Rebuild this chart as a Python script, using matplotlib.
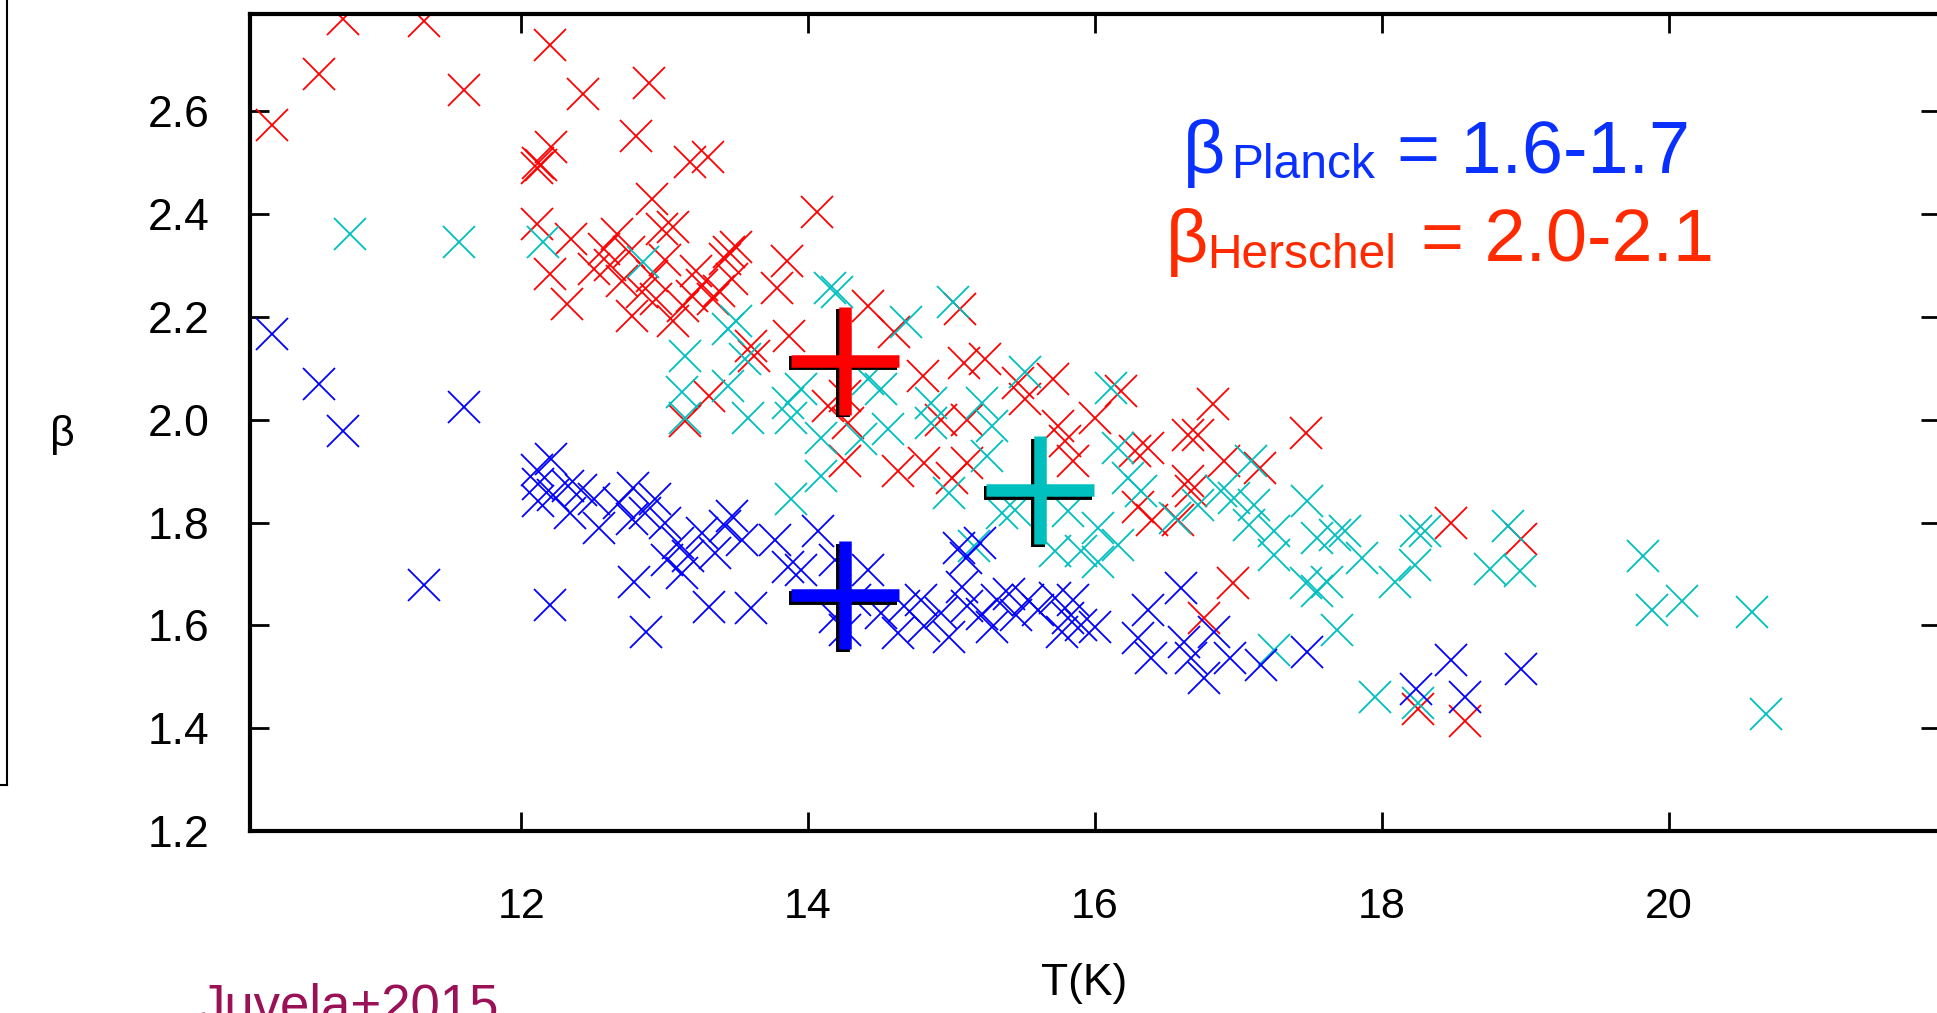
import matplotlib
matplotlib.use("Agg")
import matplotlib.pyplot as plt
import matplotlib.transforms as mtransforms
from matplotlib.lines import Line2D

plt.rcParams['font.family'] = ['Liberation Sans', 'DejaVu Sans']

# --- data ---
red_T = [10.76, 11.32, 10.59, 11.60, 10.26, 12.20, 12.43, 12.89, 12.80, 12.21,
         12.11, 12.12, 12.14, 12.11, 12.35, 12.665, 12.58, 12.51, 12.20, 12.32,
         12.77, 12.75, 12.84,
         13.18, 13.30, 14.06, 12.91, 13.06, 12.98, 13.45, 13.42, 13.50, 13.85,
         13.78, 13.26, 13.19, 13.13, 13.06, 13.34, 13.47, 12.94, 12.91, 14.42,
         14.60, 15.06, 13.87, 13.60, 13.62, 13.31, 14.80, 15.09, 15.23, 15.46,
         15.51, 14.26, 14.14,
         13.14, 14.26, 14.63, 14.81, 15.00, 15.11, 14.28, 14.93, 15.11,
         15.71, 16.18, 16.82, 17.47, 16.00, 15.74, 15.79, 15.85, 16.37, 16.28,
         16.65, 16.72, 16.90, 17.15, 16.65, 16.67, 16.30, 16.40, 16.58, 16.96,
         16.76, 18.48, 18.25, 18.97, 18.58,
         12.62, 12.70, 13.00, 13.22, 13.38]
red_beta = [2.780, 2.776, 2.672, 2.641, 2.573, 2.728, 2.633, 2.654, 2.552, 2.530,
            2.490, 2.500, 2.495, 2.381, 2.352, 2.362, 2.332, 2.293, 2.283, 2.225,
            2.202, 2.326, 2.248,
            2.501, 2.511, 2.404, 2.430, 2.375, 2.371, 2.326, 2.313, 2.335, 2.309,
            2.257, 2.261, 2.241, 2.222, 2.192, 2.235, 2.274, 2.235, 2.280, 2.222,
            2.170, 2.215, 2.163, 2.144, 2.124, 2.046, 2.085, 2.111, 2.118, 2.072,
            2.040, 2.046, 2.027,
            1.997, 1.919, 1.900, 1.916, 1.887, 1.916, 1.994, 2.000, 2.000,
            2.079, 2.056, 2.030, 1.975, 2.004, 1.988, 1.958, 1.919, 1.945, 1.939,
            1.971, 1.971, 1.919, 1.906, 1.880, 1.861, 1.831, 1.805, 1.805, 1.682,
            1.614, 1.799, 1.438, 1.768, 1.413,
            2.300, 2.270, 2.310, 2.290, 2.250]

cyan_T = [10.81, 11.57, 12.15, 12.85,
          14.15, 14.20, 15.01, 14.68, 13.50, 13.44, 13.14, 13.56, 13.12, 13.44,
          13.95, 13.86, 14.42, 14.51, 14.86, 15.21, 15.51,
          13.14, 13.58, 13.88, 14.09, 14.37, 14.56, 14.09, 13.88, 14.98, 15.25,
          15.35, 15.16, 15.44, 14.86, 15.28,
          16.11, 16.16, 16.23, 16.32, 15.81, 16.02, 16.16, 16.02, 15.72, 15.90,
          16.88, 16.97, 17.09, 17.11, 17.07, 17.25, 17.25, 17.48, 17.55, 17.74,
          17.67, 17.86, 18.09, 18.23, 18.24, 18.30, 17.47, 17.62, 17.55, 17.69,
          17.25, 17.95, 18.25, 16.56, 16.72,
          18.88, 18.75, 18.96, 19.82, 19.88, 20.09, 20.58, 20.68]
cyan_beta = [2.361, 2.346, 2.346, 2.306,
             2.257, 2.248, 2.228, 2.189, 2.192, 2.176, 2.124, 2.118, 2.053, 2.066,
             2.059, 2.033, 2.079, 2.059, 2.033, 2.033, 2.092,
             2.004, 2.004, 2.004, 1.965, 1.962, 1.981, 1.890, 1.845, 1.857, 1.929,
             1.819, 1.754, 1.825, 1.994, 1.988,
             2.062, 1.945, 1.887, 1.861, 1.822, 1.789, 1.757, 1.724, 1.744, 1.744,
             1.861, 1.848, 1.919, 1.835, 1.796, 1.783, 1.737, 1.841, 1.770, 1.783,
             1.776, 1.731, 1.685, 1.718, 1.783, 1.783, 1.682, 1.685, 1.666, 1.591,
             1.552, 1.461, 1.448, 1.809, 1.835,
             1.793, 1.710, 1.705, 1.734, 1.630, 1.648, 1.625, 1.428]

blue_T = [10.26, 10.59, 11.60, 10.76, 11.32, 12.20, 12.79, 12.87,
          12.21, 12.11, 12.12, 12.12, 12.22, 12.34, 12.42, 12.51, 12.54, 12.68,
          12.77, 12.78, 12.86, 12.33,
          12.93, 13.00, 13.09, 13.16, 13.12, 13.02, 13.31, 13.60, 13.26, 13.42,
          13.47, 13.35, 13.54, 13.77, 13.86, 14.07, 13.95, 14.19, 14.42, 14.33,
          14.19, 14.26, 14.63, 14.79, 14.81, 14.98, 15.07, 15.11, 15.21, 15.28,
          15.32, 15.53, 14.67, 14.51, 14.93, 15.05, 15.10, 15.20,
          15.40, 15.45, 15.60, 15.90, 15.85,
          15.72, 15.81, 15.77, 16.00, 16.30, 16.37, 16.60, 16.39, 16.67, 16.76,
          16.83, 16.94, 17.16, 17.48, 18.48, 18.24, 16.62,
          18.97, 18.58]
blue_beta = [2.166, 2.069, 2.025, 1.978, 1.679, 1.640, 1.685, 1.587,
             1.923, 1.903, 1.874, 1.841, 1.854, 1.819, 1.864, 1.845, 1.789, 1.838,
             1.806, 1.867, 1.819, 1.871,
             1.845, 1.799, 1.760, 1.734, 1.701, 1.727, 1.636, 1.633, 1.780, 1.793,
             1.812, 1.741, 1.766, 1.766, 1.714, 1.783, 1.708, 1.727, 1.708, 1.650,
             1.617, 1.591, 1.585, 1.650, 1.598, 1.578, 1.675, 1.637, 1.623, 1.597,
             1.650, 1.650, 1.637, 1.624, 1.624, 1.750, 1.730, 1.760,
             1.660, 1.620, 1.630, 1.600, 1.650,
             1.653, 1.614, 1.588, 1.597, 1.575, 1.630, 1.672, 1.536, 1.536, 1.497,
             1.588, 1.536, 1.523, 1.549, 1.532, 1.477, 1.568,
             1.515, 1.461]

# mean values (big crosses)
mean_T = [14.26, 15.62, 14.26]
mean_beta = [2.115, 1.863, 1.659]
mean_colors = ['#ff0000', '#00bfbf', '#0000ff']

x_ticks = [12, 14, 16, 18, 20]
y_ticks = [1.2, 1.4, 1.6, 1.8, 2.0, 2.2, 2.4, 2.6]

W, H = 1937, 1013
fig = plt.figure(figsize=(W / 100, H / 100), dpi=100)
ax = fig.add_axes([250 / W, 1 - 831 / H, 1690 / W, 817 / H])

ax.plot(red_T, red_beta, 'x', color='#ff0000', ms=23, mew=1.3, ls='none')
ax.plot(cyan_T, cyan_beta, 'x', color='#00bfbf', ms=23, mew=1.3, ls='none')
ax.plot(blue_T, blue_beta, 'x', color='#0000ff', ms=23, mew=1.3, ls='none')

shadow = mtransforms.offset_copy(ax.transData, fig=fig, x=-2.5, y=-2.5, units='dots')
for t, b, c in zip(mean_T, mean_beta, mean_colors):
    ax.plot([t], [b], '+', color='black', ms=78, mew=10, transform=shadow, zorder=5)
    ax.plot([t], [b], '+', color=c, ms=78, mew=9, zorder=6)

ax.set_xlim(10.11, 21.89)
ax.set_ylim(1.2, 2.789)
ax.set_xticks(x_ticks)
ax.set_xticklabels([str(v) for v in x_ticks])
ax.set_yticks(y_ticks)
ax.set_yticklabels([f"{v:.1f}" for v in y_ticks])
ax.tick_params(direction='in', length=14, width=2, top=True, right=True,
               labelsize=31)
ax.tick_params(axis='x', pad=40)
ax.tick_params(axis='y', pad=29, labelsize=32)
for sp in ax.spines.values():
    sp.set_linewidth(3)

ax.set_xlabel('T(K)', fontsize=32)
ax.xaxis.set_label_coords(0.4935, -0.162)
ax.set_ylabel('β', fontsize=31, rotation=0, va='center', ha='center')
ax.yaxis.set_label_coords(-0.111, 0.485)

# annotation text
blue_txt = '#0a30ff'
red_txt = '#ff2a00'
def fy(py):
    return 1 - py / H
fig.text(1183 / W, fy(173), 'β', fontsize=53, color=blue_txt, va='baseline')
fig.text(1231 / W, fy(178), 'Planck', fontsize=34.5, color=blue_txt, va='baseline')
fig.text(1397 / W, fy(173), '= 1.6-1.7', fontsize=53, color=blue_txt, va='baseline')
fig.text(1166 / W, fy(262), 'β', fontsize=53, color=red_txt, va='baseline')
fig.text(1207 / W, fy(268), 'Herschel', fontsize=34.5, color=red_txt, va='baseline')
fig.text(1421 / W, fy(262), '= 2.0-2.1', fontsize=53, color=red_txt, va='baseline')

fig.text(198 / W, fy(1021), 'Juvela+2015', fontsize=38, color='#9b1158', va='baseline')

# edge of the neighbouring panel on the far left
fig.add_artist(Line2D([7 / W, 7 / W], [1, fy(785)], color='black', lw=1.5))
fig.add_artist(Line2D([0, 7 / W], [fy(785), fy(785)], color='black', lw=1.5))

fig.savefig('out.png', dpi=100)
